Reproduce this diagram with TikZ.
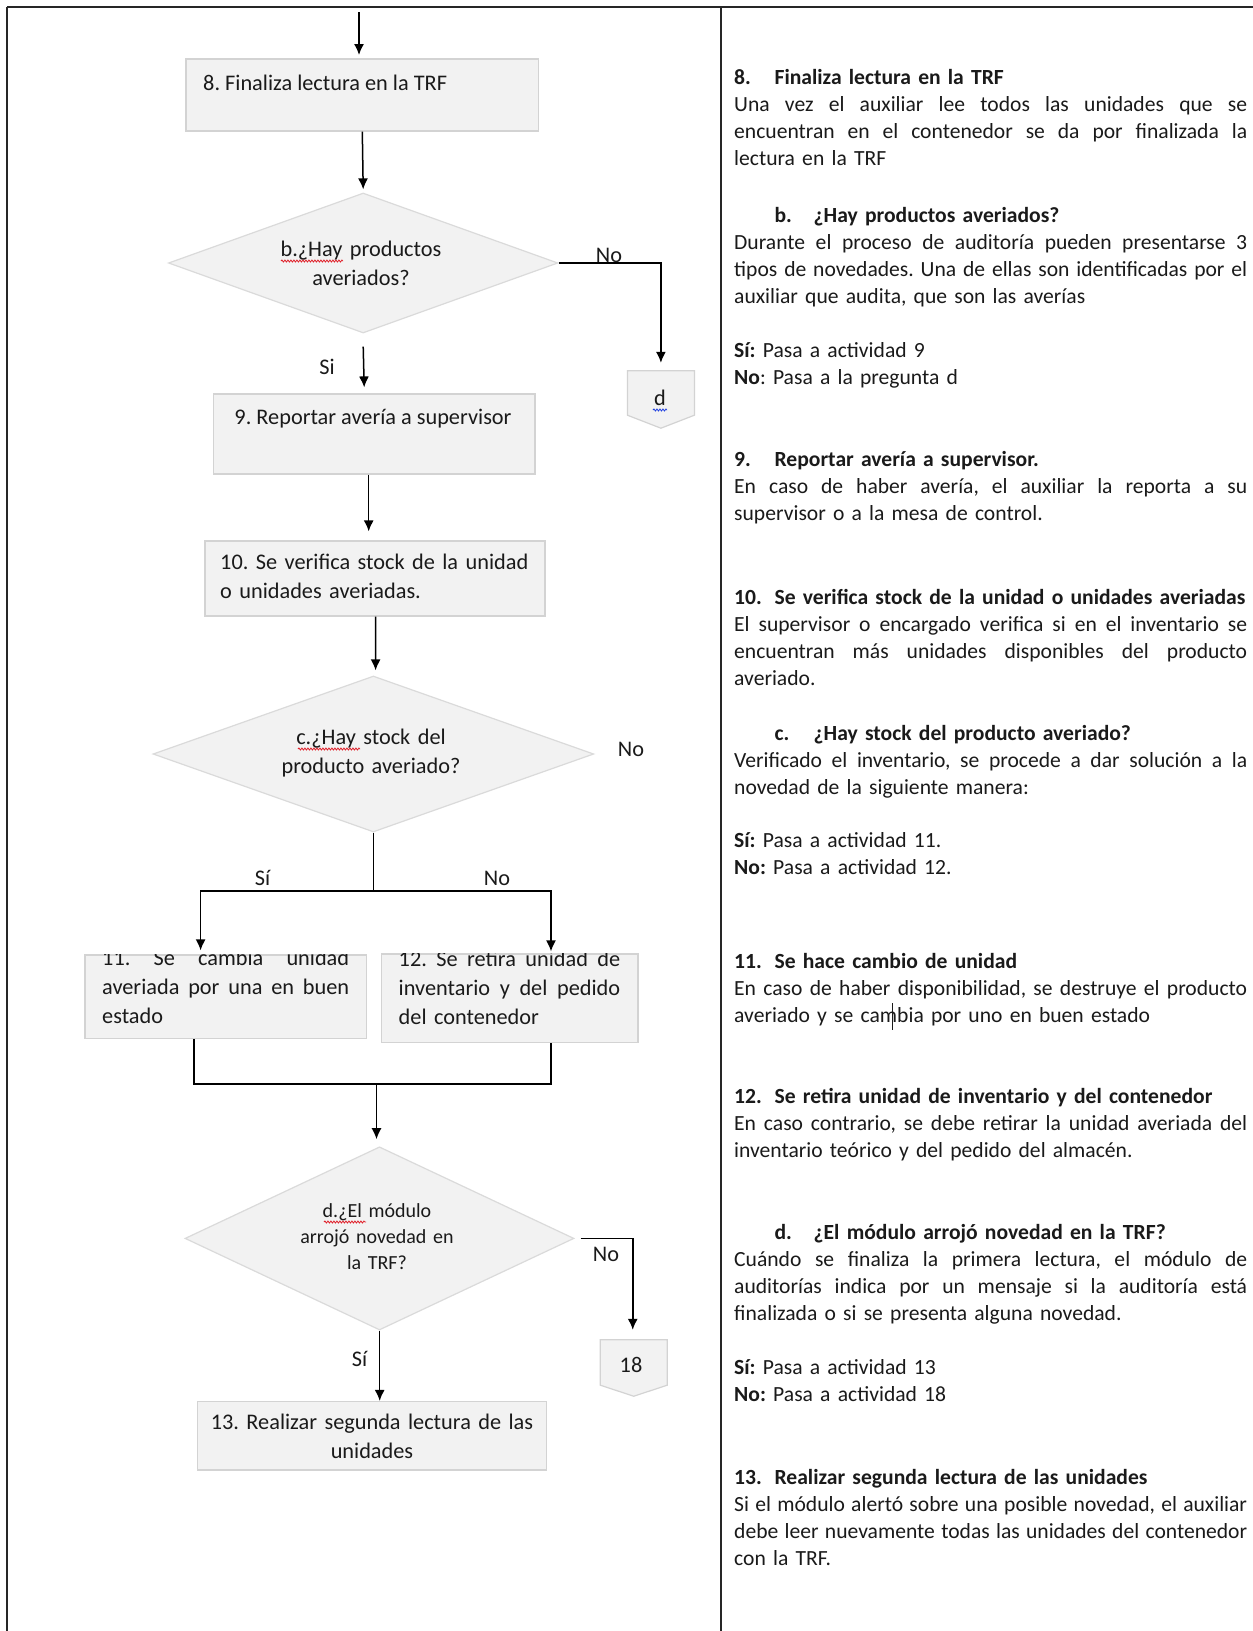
\documentclass[tikz,border=0pt]{standalone}
\usepackage{fontspec}
\setmainfont{Carlito}
\usetikzlibrary{arrows.meta,shapes.geometric,decorations.pathmorphing}

\definecolor{boxfill}{HTML}{F2F2F2}
\definecolor{boxline}{HTML}{D3D3D3}
\definecolor{dialine}{HTML}{DADADA}
\definecolor{txt}{HTML}{1A1A1A}
\definecolor{framecol}{HTML}{262626}
\definecolor{spellred}{HTML}{E0202A}
\definecolor{spellblue}{HTML}{2040E0}

% width of a fully justified line
\newlength{\jlw}
% fully justified line: spaces stretch evenly to fill \jlw
\newcommand{\jl}[1]{\leavevmode\hbox to \jlw{\spaceskip=\fontdimen2\font plus 1fil minus .3\fontdimen2\font\relax #1}\\}
% bold heading line that never wraps
\newcommand{\hl}[1]{\leavevmode\hbox to \jlw{\textbf{#1}\hss}\\}
\newcommand{\fcfont}{\fontsize{22.3pt}{29pt}\selectfont}
\newcommand{\dqfont}{\fontsize{20pt}{26pt}\selectfont}
\newcommand{\rcfont}{\fontsize{21.6pt}{27.04pt}\selectfont}

\begin{document}
\frenchspacing
\begin{tikzpicture}[x=1pt,y=-1pt,
  box/.style={draw=boxline,fill=boxfill,line width=1.2pt,inner sep=0pt},
  dia/.style={diamond,draw=dialine,fill=boxfill,line width=1.2pt,inner sep=0pt},
  offpage/.style={inner sep=0pt},
  fctext/.style={font=\fcfont,text=txt,inner sep=0pt},
  dqtext/.style={font=\dqfont,text=txt,inner sep=0pt},
  desc/.style={font=\rcfont,text=txt,inner sep=0pt,anchor=base west,
    text width=513pt,align=left,execute at begin node={\setlength{\jlw}{513pt}}},
  line/.style={line width=1.5pt,black},
  arr/.style={line,-{Latex[length=11pt,width=10pt]}},
  frame/.style={framecol,line width=2pt},
  spell/.style={line width=0.8pt,decorate,
    decoration={snake,amplitude=1pt,segment length=3pt}}]

\useasboundingbox (0,0) rectangle (1253,1631);
\fill[white] (0,0) rectangle (1253,1631);

% ---------- page frame ----------
\coordinate (tl) at (7,7);
\coordinate (tr) at (1253,7);
\coordinate (bl) at (7,1631);
\coordinate (mt) at (721,7);
\coordinate (mb) at (721,1631);
\draw[frame,line width=2.4pt] (tl) -- (tr);
\draw[frame] (tl) -- (bl);
\draw[frame,line width=1.6pt] (mt) -- (mb);

% ---------- flowchart shapes ----------
\node[box,minimum width=352.6pt,minimum height=72pt] (b8) at (362.3,95) {};
\node[dia,minimum width=389.4pt,minimum height=140pt] (qb) at (363.2,263) {};
\node[offpage,minimum width=66.6pt,minimum height=57pt] (dconn) at (660.9,399.5) {};
\node[box,minimum width=321.4pt,minimum height=80pt] (b9) at (374.2,434) {};
\node[box,minimum width=340pt,minimum height=75pt] (b10) at (375,578.5) {};
\node[dia,minimum width=440.7pt,minimum height=156pt] (qc) at (373.4,754) {};
\node[box,minimum width=281.4pt,minimum height=83.7pt] (b11) at (225.7,996.85) {};
\node[box,minimum width=256.5pt,minimum height=88.6pt] (b12) at (509.75,998.3) {};
\node[dia,minimum width=389pt,minimum height=183.2pt] (qd) at (379.5,1238.4) {};
\node[offpage,minimum width=66.5pt,minimum height=56pt] (c18) at (633.75,1368) {};
\node[box,minimum width=349pt,minimum height=68.5pt] (b13) at (371.9,1435.75) {};

% off-page connector outlines
\foreach \c/\d in {dconn/13pt,c18/11pt}{
  \filldraw[draw=boxline,fill=boxfill,line width=1.2pt]
    (\c.north west) -- (\c.north east) -- ([yshift=\d]\c.south east)
    -- (\c.south) -- ([yshift=\d]\c.south west) -- cycle;
}

% ---------- flowchart texts ----------
\node[fctext,anchor=base west] (b8t) at (203,90) {8. Finaliza lectura en la TRF};
\node[fctext,anchor=base,text width=240pt,align=center] (qbt) at (361,256)
  {b.¿Hay productos\\averiados?};
\node[fctext,anchor=base] (dct) at (660,405) {d};
\node[fctext,anchor=base] (b9t) at (373,424) {9. Reportar avería a supervisor};
\node[fctext,anchor=base west,text width=320pt,align=left] (b10t) at (220,569)
  {10. Se verifica stock de la unidad\\o unidades averiadas.};
\node[fctext,anchor=base,text width=280pt,align=center] (qct) at (371,744)
  {c.¿Hay stock del\\producto averiado?};
\begin{scope}
  \clip (b11.north west) rectangle (b11.south east);
  \node[fctext,anchor=base west,text width=247pt,align=left] (b11t) at (102,965)
    {\setlength{\jlw}{247pt}\jl{11. Se cambia unidad}\jl{averiada por una en buen}estado};
\end{scope}
\begin{scope}
  \clip (b12.north west) rectangle (b12.south east);
  \node[fctext,anchor=base west,text width=221.5pt,align=left] (b12t) at (398.5,966)
    {\setlength{\jlw}{221.5pt}\jl{12. Se retira unidad de}\jl{inventario y del pedido}del contenedor};
\end{scope}
\node[dqtext,anchor=base,text width=220pt,align=center] (qdt) at (377,1217)
  {d.¿El módulo\\arrojó novedad en\\la TRF?};
\node[fctext,anchor=base] (c18t) at (631,1372) {18};
\node[fctext,anchor=base,text width=340pt,align=center] (b13t) at (372,1429)
  {13. Realizar segunda lectura de las\\unidades};

% branch labels
\node[fctext,anchor=base] (lbNo) at (609,262) {No};
\node[fctext,anchor=base] (lbSi) at (327,374) {Si};
\node[fctext,anchor=base] (lcNo) at (631,756) {No};
\node[fctext,anchor=base] (lcSi2) at (262.6,885) {Sí};
\node[fctext,anchor=base] (lcNo2) at (497,885) {No};
\node[fctext,anchor=base] (ldNo) at (606,1261.6) {No};
\node[fctext,anchor=base] (ldSi) at (359.5,1366) {Sí};

% spelling marks under the question labels
\draw[spell,spellred] (281,261) -- (343,261);
\draw[spell,spellred] (298,749) -- (360,749);
\draw[spell,spellred] (324,1222) -- (366,1222);
\draw[spell,spellblue] (653,410) -- (667,410);

% ---------- connectors ----------
\coordinate (in) at (359,12);
\coordinate (b8in) at (359,55);
\draw[arr] (in) -- (b8in);
\draw[arr] (b8.south) -- ([yshift=3pt]qb.north);
\draw[arr] (qb.east) -| ([yshift=8pt]dconn.north);
\draw[arr] ([yshift=-13pt]qb.south) -- ([xshift=-10pt,yshift=6pt]b9.north);
\draw[arr] ([xshift=-5.5pt]b9.south) -- ([xshift=-6.3pt,yshift=9pt]b10.north);
\draw[arr] ([xshift=0.6pt]b10.south) -- ([xshift=2.2pt,yshift=5pt]qc.north);

\coordinate (split) at ([yshift=-58.6pt]qc.south);
\draw[line] (qc.south) -- (split);
\draw[arr] (split) -| ([xshift=-25.1pt,yshift=4pt]b11.north);
\draw[arr] (split) -| ([xshift=41.25pt,yshift=2pt]b12.north);

\coordinate (merge) at (376.5,1084);
\draw[line] ([xshift=-31.9pt]b11.south) |- (merge);
\draw[line] ([xshift=41.25pt]b12.south) |- (merge);
\draw[arr] (merge) -- ([xshift=-3pt,yshift=7pt]qd.north);

\draw[arr] ([xshift=6pt]qd.east) -| ([xshift=-1pt,yshift=10pt]c18.north);
\draw[arr] ([xshift=0.2pt]qd.south) -- ([xshift=7.8pt]b13.north);

% ---------- description column ----------
\node[desc] (d8) at (734,84.5) {%
  \hl{\makebox[40.4pt][l]{8.}Finaliza lectura en la TRF}%
  \jl{Una vez el auxiliar lee todos las unidades que se}%
  \jl{encuentran en el contenedor se da por finalizada la}%
  lectura en la TRF};
\node[desc] (db) at (734,222.7) {%
  \hl{\hspace*{40.4pt}\makebox[39.1pt][l]{b.}¿Hay productos averiados?}%
  \jl{Durante el proceso de auditoría pueden presentarse 3}%
  \jl{tipos de novedades. Una de ellas son identificadas por el}%
  auxiliar que audita, que son las averías};
\node[desc] (dbr) at (734,357.9) {%
  \textbf{Sí:} Pasa a actividad 9\\
  \textbf{No}: Pasa a la pregunta d};
\node[desc] (d9) at (734,466) {%
  \hl{\makebox[40.4pt][l]{9.}Reportar avería a supervisor.}%
  \jl{En caso de haber avería, el auxiliar la reporta a su}%
  supervisor o a la mesa de control.};
\node[desc] (d10) at (734,604.3) {%
  \hl{\makebox[40.4pt][l]{10.}Se verifica stock de la unidad o unidades averiadas}%
  \jl{El supervisor o encargado verifica si en el inventario se}%
  \jl{encuentran más unidades disponibles del producto}%
  averiado.};
\node[desc] (dc) at (734,740.5) {%
  \hl{\hspace*{40.4pt}\makebox[39.1pt][l]{c.}¿Hay stock del producto averiado?}%
  \jl{Verificado el inventario, se procede a dar solución a la}%
  novedad de la siguiente manera:};
\node[desc] (dcr) at (734,847.5) {%
  \textbf{Sí:} Pasa a actividad 11.\\
  \textbf{No:} Pasa a actividad 12.};
\node[desc] (d11) at (734,968.2) {%
  \hl{\makebox[40.4pt][l]{11.}Se hace cambio de unidad}%
  \jl{En caso de haber disponibilidad, se destruye el producto}%
  averiado y se cambia por uno en buen estado};
\draw[line width=0.8pt,txt] (892,1003) -- (892,1030);
\node[desc] (d12) at (734,1103.5) {%
  \hl{\makebox[40.4pt][l]{12.}Se retira unidad de inventario y del contenedor}%
  \jl{En caso contrario, se debe retirar la unidad averiada del}%
  inventario teórico y del pedido del almacén.};
\node[desc] (dd) at (734,1239.5) {%
  \hl{\hspace*{40.4pt}\makebox[39.1pt][l]{d.}¿El módulo arrojó novedad en la TRF?}%
  \jl{Cuándo se finaliza la primera lectura, el módulo de}%
  \jl{auditorías indica por un mensaje si la auditoría está}%
  finalizada o si se presenta alguna novedad.};
\node[desc] (ddr) at (734,1374.5) {%
  \textbf{Sí:} Pasa a actividad 13\\
  \textbf{No:} Pasa a actividad 18};
\node[desc] (d13) at (734,1484) {%
  \hl{\makebox[40.4pt][l]{13.}Realizar segunda lectura de las unidades}%
  \jl{Si el módulo alertó sobre una posible novedad, el auxiliar}%
  \jl{debe leer nuevamente todas las unidades del contenedor}%
  con la TRF.};
\end{tikzpicture}
\end{document}
